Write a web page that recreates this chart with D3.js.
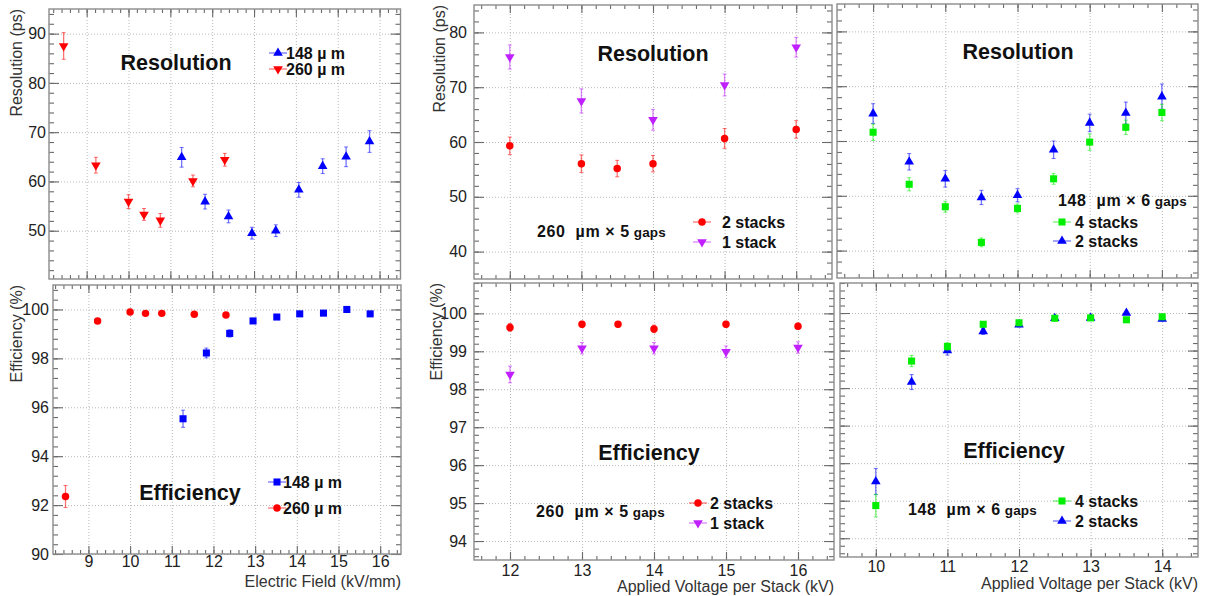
<!DOCTYPE html>
<html>
<head>
<meta charset="utf-8">
<script src="https://cdn.jsdelivr.net/npm/d3@7"></script>
<style>
body{margin:0;background:#fff}
svg{display:block;font-family:"Liberation Sans",Arial,Helvetica,sans-serif}
</style>
</head>
<body>
<svg width="1206" height="596"></svg>
<script>
// Timing resolution and efficiency vs field / voltage, three canvases with two pads each

// left canvas: electric field scan
var field260 = [8.45, 9.22, 10.0, 10.37, 10.76, 11.54, 12.3];
var res260 = [87.5, 63.3, 55.9, 53.3, 52.1, 60.1, 64.4];
var res260Err = [2.7, 1.6, 1.4, 1.2, 1.4, 1.2, 1.3];
var eff260 = [92.35, 99.53, 99.9, 99.84, 99.84, 99.8, 99.77];
var eff260Err = [0.45, 0.06, 0.04, 0.05, 0.05, 0.05, 0.05];

var field148 = [11.27, 11.83, 12.39, 12.95, 13.52, 14.07, 14.64, 15.2, 15.76];
var res148 = [64.9, 55.9, 52.9, 49.5, 50.0, 58.3, 63.1, 65.0, 68.1];
var res148Err = [2.0, 1.5, 1.3, 1.2, 1.2, 1.5, 1.5, 2.0, 2.2];
var eff148 = [95.53, 98.22, 99.02, 99.53, 99.69, 99.82, 99.85, 100.0, 99.82];
var eff148Err = [0.35, 0.2, 0.15, 0.08, 0.06, 0.05, 0.05, 0.03, 0.05];

// middle canvas: 260 um x 5 gaps
var volt2stk = [12, 13, 13.5, 14, 15, 16];
var res2stk = [59.3, 56.05, 55.15, 56.05, 60.65, 62.3];
var res2stkErr = [1.6, 1.6, 1.5, 1.5, 1.8, 1.6];
var eff2stk = [99.63, 99.71, 99.71, 99.59, 99.71, 99.66];
var eff2stkErr = [0.1, 0.08, 0.07, 0.1, 0.08, 0.08];

var volt1stk = [12, 13, 14, 15, 16];
var res1stk = [75.5, 67.5, 64.05, 70.4, 77.3];
var res1stkErr = [2.2, 2.2, 1.9, 2.0, 1.8];
var eff1stk = [98.39, 99.08, 99.08, 98.99, 99.1];
var eff1stkErr = [0.22, 0.15, 0.15, 0.15, 0.15];

// right canvas: 148 um x 6 gaps
var volt148 = [10, 10.5, 11, 11.5, 12, 12.5, 13, 13.5, 14];
var res4stk = [61.6, 52.1, 48.0, 41.5, 47.7, 53.1, 59.8, 62.5, 65.2];
var res4stkErr = [1.5, 1.2, 1.0, 0.8, 0.8, 1.0, 1.5, 1.3, 1.5];
var res2stk148 = [65.0, 56.2, 53.1, 49.7, 50.1, 58.4, 63.3, 65.1, 68.1];
var res2stk148Err = [1.8, 1.5, 1.5, 1.3, 1.2, 1.6, 1.6, 2.0, 2.3];
var eff4stk = [94.87, 98.72, 99.11, 99.7, 99.74, 99.86, 99.87, 99.82, 99.9];
var eff4stkErr = [0.3, 0.15, 0.1, 0.07, 0.06, 0.05, 0.05, 0.05, 0.05];
var eff2stk148 = [95.51, 98.16, 99.0, 99.51, 99.69, 99.86, 99.87, 100.0, 99.84];
var eff2stk148Err = [0.35, 0.2, 0.12, 0.08, 0.06, 0.05, 0.05, 0.03, 0.05];

// tick labels
var fieldTicks = [9, 10, 11, 12, 13, 14, 15, 16];
var volt260Ticks = [12, 13, 14, 15, 16];
var volt148Ticks = [10, 11, 12, 13, 14];
var resTicksLeft = [50, 60, 70, 80, 90];
var resTicksMid = [40, 50, 60, 70, 80];
var effTicksLeft = [90, 92, 94, 96, 98, 100];
var effTicksMid = [94, 95, 96, 97, 98, 99, 100];

var RED = "#ff0000", BLUE = "#0000ff", GREEN = "#00ee00", VIOLET = "#c020ff";

function series(xs, ys, es, color, shape, label){
	return {pts: xs.map((v, i) => ({x: v, y: ys[i], e: es[i]})), color: color, shape: shape, label: label};
}

var svg = d3.select("svg");

function markerPath(shape){
	if (shape == "up" || shape == "down") return d3.symbol().type(d3.symbolTriangle).size(40)();
	if (shape == "square") return d3.symbol().type(d3.symbolSquare).size(50)();
	return d3.symbol().type(d3.symbolCircle).size(44)();
}

function drawMarker(g, x, y, s){
	g.append("path")
		.attr("d", markerPath(s.shape))
		.attr("fill", s.color)
		.attr("transform", "translate(" + x + "," + y + ")" + (s.shape == "down" ? " rotate(180)" : ""));
}

function drawPanel(p){
	var x = d3.scaleLinear().domain(p.xDomain).range([p.left, p.right]);
	var y = d3.scaleLinear().domain(p.yDomain).range([p.bottom, p.top]);
	var w = p.right - p.left, h = p.bottom - p.top;
	var g = svg.append("g");

	// grid
	g.append("g").attr("transform", "translate(0," + p.bottom + ")")
		.call(d3.axisBottom(x).tickValues(p.xTicks).tickSize(-h).tickFormat(""))
		.call(a => a.select(".domain").remove());
	g.append("g").attr("transform", "translate(" + p.left + ",0)")
		.call(d3.axisLeft(y).tickValues(p.yTicks).tickSize(-w).tickFormat(""))
		.call(a => a.select(".domain").remove());
	g.selectAll("line").attr("stroke", "#b8b8b8").attr("stroke-dasharray", "1,2");

	var xMinor = d3.range(Math.ceil(p.xDomain[0] / p.xMinor - 1e-6) * p.xMinor, p.xDomain[1] + 1e-6, p.xMinor);
	var yMinor = d3.range(Math.ceil(p.yDomain[0] / p.yMinor - 1e-6) * p.yMinor, p.yDomain[1] + 1e-6, p.yMinor);

	var ax = svg.append("g").attr("class", "ax");
	// bottom
	ax.append("g").attr("transform", "translate(0," + p.bottom + ")")
		.call(d3.axisBottom(x).tickValues(xMinor).tickSizeInner(-4).tickSizeOuter(0).tickFormat(""));
	ax.append("g").attr("class", "lab").attr("transform", "translate(0," + p.bottom + ")")
		.call(d3.axisBottom(x).tickValues(p.xTicks).tickSizeInner(-8).tickSizeOuter(0)
			.tickPadding(p.xPad).tickFormat(p.xLabels ? d3.format("d") : ""));
	// top
	ax.append("g").attr("transform", "translate(0," + p.top + ")")
		.call(d3.axisTop(x).tickValues(xMinor).tickSizeInner(-4).tickSizeOuter(0).tickFormat(""));
	ax.append("g").attr("transform", "translate(0," + p.top + ")")
		.call(d3.axisTop(x).tickValues(p.xTicks).tickSizeInner(-8).tickSizeOuter(0).tickFormat(""));
	// left
	ax.append("g").attr("transform", "translate(" + p.left + ",0)")
		.call(d3.axisLeft(y).tickValues(yMinor).tickSizeInner(-5).tickSizeOuter(0).tickFormat(""));
	ax.append("g").attr("class", "lab").attr("transform", "translate(" + p.left + ",0)")
		.call(d3.axisLeft(y).tickValues(p.yTicks).tickSizeInner(-10).tickSizeOuter(0)
			.tickPadding(p.yPad).tickFormat(p.yLabels ? d3.format("d") : ""));
	// right
	ax.append("g").attr("transform", "translate(" + p.right + ",0)")
		.call(d3.axisRight(y).tickValues(yMinor).tickSizeInner(-5).tickSizeOuter(0).tickFormat(""));
	ax.append("g").attr("transform", "translate(" + p.right + ",0)")
		.call(d3.axisRight(y).tickValues(p.yTicks).tickSizeInner(-10).tickSizeOuter(0).tickFormat(""));
	ax.selectAll(".domain").remove();
	ax.selectAll("line").attr("stroke", "#6a6a6a").attr("stroke-width", 1.1);
	ax.selectAll(".lab text").attr("font-size", 16).attr("fill", "#222")
		.attr("font-family", "'Liberation Sans', Arial, sans-serif");

	svg.append("rect")
		.attr("x", p.left).attr("y", p.top).attr("width", w).attr("height", h)
		.attr("fill", "none").attr("stroke", "#8c8c8c").attr("stroke-width", 1.4);

	// data
	var dg = svg.append("g");
	p.series.forEach(s => {
		s.pts.forEach(d => {
			var cx = x(d.x);
			var yt = y(d.y + d.e), yb = y(d.y - d.e);
			dg.append("line").attr("x1", cx).attr("x2", cx).attr("y1", yt).attr("y2", yb)
				.attr("stroke", s.color).attr("stroke-opacity", 0.55).attr("stroke-width", 1.3);
			[yt, yb].forEach(v => dg.append("line").attr("x1", cx - 2).attr("x2", cx + 2)
				.attr("y1", v).attr("y2", v).attr("stroke", s.color).attr("stroke-opacity", 0.55));
			drawMarker(dg, cx, y(d.y), s);
		});
	});

	// title
	svg.append("text").attr("x", p.title.x).attr("y", p.title.y).attr("dy", "0.35em")
		.attr("text-anchor", "middle").attr("font-size", 21.5).attr("font-weight", "bold")
		.attr("fill", "#111").text(p.title.text);

	if (p.yTitle){
		svg.append("text")
			.attr("transform", "translate(" + p.yTitle.x + "," + p.top + ") rotate(-90)")
			.attr("text-anchor", "end").attr("dy", "0.35em").attr("font-size", 16).attr("fill", "#333")
			.text(p.yTitle.text);
	}
	if (p.xTitle){
		svg.append("text").attr("x", p.right).attr("y", p.xTitle.y).attr("dy", "0.35em")
			.attr("text-anchor", "end").attr("font-size", 16).attr("fill", "#333")
			.text(p.xTitle.text);
	}

	// legend
	var lg = svg.append("g");
	p.legend.rows.forEach((r, i) => {
		var s = p.series[r.idx];
		var ly = p.legend.y + i * p.legend.dy;
		lg.append("line").attr("x1", p.legend.mx - 9).attr("x2", p.legend.mx + 9)
			.attr("y1", ly).attr("y2", ly).attr("stroke", s.color).attr("stroke-opacity", 0.55)
			.attr("stroke-width", 1.3);
		drawMarker(lg, p.legend.mx, ly, s);
		lg.append("text").attr("x", p.legend.tx).attr("y", ly).attr("dy", "0.36em")
			.attr("font-size", 16).attr("font-weight", "bold").attr("fill", "#111")
			.style("white-space", "pre")
			.text(s.label);
	});
	if (p.note){
		var t = svg.append("text").attr("x", p.note.x).attr("y", p.note.y).attr("dy", "0.36em")
			.attr("font-size", 16).attr("font-weight", "bold").attr("fill", "#111")
			.attr("letter-spacing", 0.6)
			.style("white-space", "pre");
		t.append("tspan").text(p.note.main);
		t.append("tspan").attr("font-size", 13.5).attr("letter-spacing", 0.2).text(" gaps");
	}
}

var panels = [
	{left: 49, right: 400.5, top: 9, bottom: 279, xDomain: [8.1, 16.5], yDomain: [40.2, 95],
		xTicks: fieldTicks, yTicks: resTicksLeft, xMinor: 0.2, yMinor: 2, xLabels: false, yLabels: true,
		xPad: 4, yPad: 3,
		title: {text: "Resolution", x: 176, y: 62},
		yTitle: {text: "Resolution (ps)", x: 16},
		series: [series(field148, res148, res148Err, BLUE, "up", "148 \u00b5 m"),
			series(field260, res260, res260Err, RED, "down", "260 \u00b5 m")],
		legend: {mx: 278, tx: 286, y: 53, dy: 16, rows: [{idx: 0}, {idx: 1}]}},
	{left: 53, right: 401, top: 285, bottom: 554, xDomain: [8.15, 16.5], yDomain: [90, 101],
		xTicks: fieldTicks, yTicks: effTicksLeft, xMinor: 0.2, yMinor: 0.4, xLabels: true, yLabels: true,
		xPad: 2, yPad: 4,
		title: {text: "Efficiency", x: 190, y: 492},
		yTitle: {text: "Efficiency (%)", x: 16},
		xTitle: {text: "Electric Field (kV/mm)", y: 581},
		series: [series(field148, eff148, eff148Err, BLUE, "square", "148 \u00b5 m"),
			series(field260, eff260, eff260Err, RED, "circle", "260 \u00b5 m")],
		legend: {mx: 277, tx: 283, y: 482, dy: 26, rows: [{idx: 0}, {idx: 1}]}},
	{left: 474, right: 832, top: 5, bottom: 279, xDomain: [11.5, 16.5], yDomain: [35, 85],
		xTicks: volt260Ticks, yTicks: resTicksMid, xMinor: 0.2, yMinor: 2, xLabels: false, yLabels: true,
		xPad: 4, yPad: 7,
		title: {text: "Resolution", x: 653, y: 53},
		yTitle: {text: "Resolution (ps)", x: 439},
		series: [series(volt2stk, res2stk, res2stkErr, RED, "circle", "2 stacks"),
			series(volt1stk, res1stk, res1stkErr, VIOLET, "down", "1 stack")],
		legend: {mx: 702, tx: 722, y: 222, dy: 20, rows: [{idx: 0}, {idx: 1}]},
		note: {x: 537, y: 231, main: "260  \u00b5m \u00d7 5"}},
	{left: 474, right: 834, top: 283, bottom: 560, xDomain: [11.5, 16.5], yDomain: [93.5, 100.8],
		xTicks: volt260Ticks, yTicks: effTicksMid, xMinor: 0.2, yMinor: 0.2, xLabels: true, yLabels: true,
		xPad: 5, yPad: 7,
		title: {text: "Efficiency", x: 649, y: 452},
		yTitle: {text: "Efficiency (%)", x: 436},
		xTitle: {text: "Applied Voltage per Stack (kV)", y: 586},
		series: [series(volt2stk, eff2stk, eff2stkErr, RED, "circle", "2 stacks"),
			series(volt1stk, eff1stk, eff1stkErr, VIOLET, "down", "1 stack")],
		legend: {mx: 698, tx: 710, y: 503, dy: 20, rows: [{idx: 0}, {idx: 1}]},
		note: {x: 536, y: 511, main: "260  \u00b5m \u00d7 5"}},
	{left: 837, right: 1198, top: 4, bottom: 278, xDomain: [9.5, 14.5], yDomain: [35, 85],
		xTicks: volt148Ticks, yTicks: resTicksMid, xMinor: 0.2, yMinor: 2, xLabels: false, yLabels: false,
		xPad: 4, yPad: 7,
		title: {text: "Resolution", x: 1018, y: 51},
		series: [series(volt148, res2stk148, res2stk148Err, BLUE, "up", "2 stacks"),
			series(volt148, res4stk, res4stkErr, GREEN, "square", "4 stacks")],
		legend: {mx: 1062, tx: 1075, y: 222, dy: 19, rows: [{idx: 1}, {idx: 0}]},
		note: {x: 1058, y: 200, main: "148  \u00b5m \u00d7 6"}},
	{left: 840, right: 1198, top: 283, bottom: 557, xDomain: [9.5, 14.5], yDomain: [93.5, 100.8],
		xTicks: volt148Ticks, yTicks: effTicksMid, xMinor: 0.2, yMinor: 0.2, xLabels: true, yLabels: false,
		xPad: 4, yPad: 7,
		title: {text: "Efficiency", x: 1014, y: 450},
		xTitle: {text: "Applied Voltage per Stack (kV)", y: 583},
		series: [series(volt148, eff2stk148, eff2stk148Err, BLUE, "up", "2 stacks"),
			series(volt148, eff4stk, eff4stkErr, GREEN, "square", "4 stacks")],
		legend: {mx: 1062, tx: 1075, y: 501, dy: 20, rows: [{idx: 1}, {idx: 0}]},
		note: {x: 908, y: 509, main: "148  \u00b5m \u00d7 6"}}
];

panels.forEach(drawPanel);
</script>
</body>
</html>
